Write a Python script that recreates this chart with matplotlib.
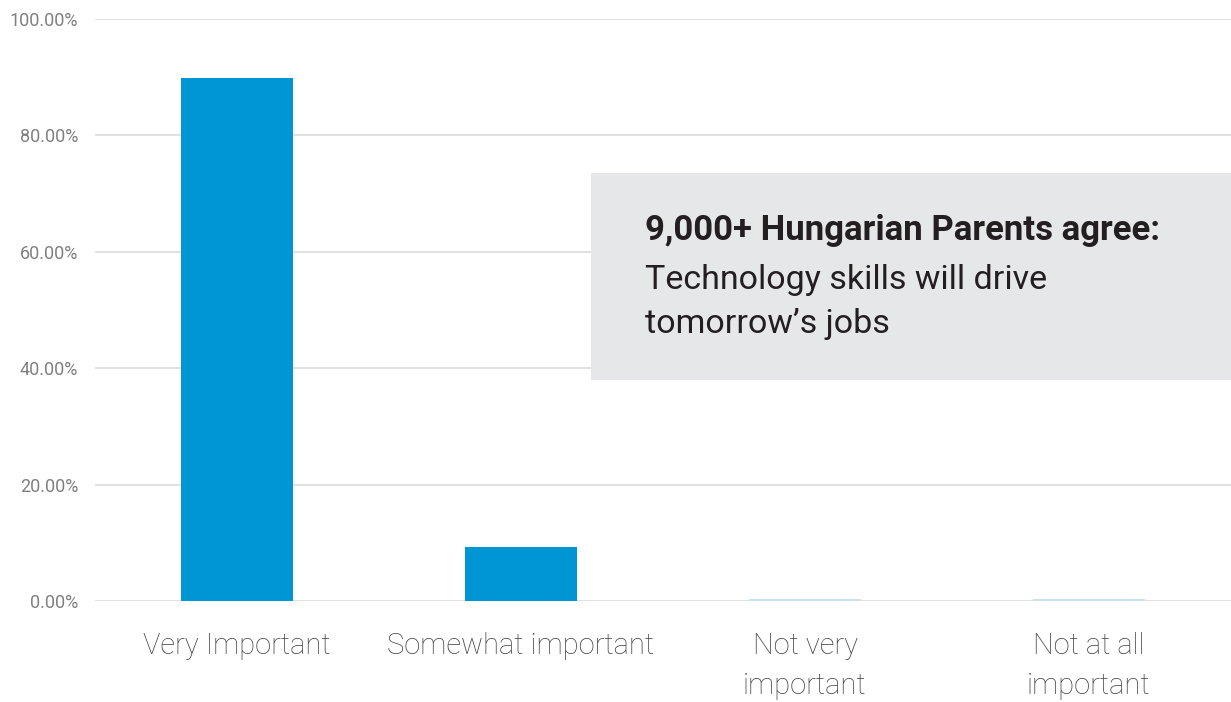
import numpy as np
import matplotlib.pyplot as plt
from matplotlib.ticker import FuncFormatter

categories = ["Very Important", "Somewhat important", "Not very\nimportant", "Not at all\nimportant"]
shares = [89.9, 9.3, 0.3, 0.3]
bar_colors = ["#0096d6", "#0096d6", "#c6e2ee", "#c6e2ee"]
y_ticks = [0, 20, 40, 60, 80, 100]

plt.rcParams['font.family'] = ['Roboto', 'DejaVu Sans']

fig = plt.figure(figsize=(12.31, 7.02), dpi=100)
ax = fig.add_axes([0.0772, 0.1439, 0.9228, 0.829])

x = np.arange(len(categories))
ax.bar(x, shares, width=0.395, color=bar_colors, zorder=2)

ax.set_xlim(-0.5, len(categories) - 0.5)
ax.set_ylim(0, 100)
ax.set_yticks(y_ticks)
ax.yaxis.set_major_formatter(FuncFormatter(lambda v, p: "%.2f%%" % v))
ax.grid(axis='y', color='#d9d9d9', linewidth=1.1, zorder=0)
ax.set_axisbelow(True)
for s in ax.spines.values():
    s.set_visible(False)

ax.tick_params(axis='y', length=0, pad=12, labelsize=13, labelcolor='#808080')
ax.tick_params(axis='x', length=0, pad=22, labelsize=21, labelcolor='#444444')
ax.set_xticks(x)
ax.set_xticklabels(categories, fontweight='light', linespacing=1.55)

# annotation box
box = plt.Rectangle((591 / 1231, 1 - 380 / 702), 640 / 1231, 207 / 702,
                    transform=fig.transFigure, facecolor='#e6e7e8', edgecolor='none', zorder=3)
fig.patches.append(box)
fig.text(645 / 1231, 1 - 231 / 702, "9,000+ Hungarian Parents agree:", fontsize=25,
         fontweight='bold', color='#231f20', va='center', ha='left')
fig.text(645 / 1231, 1 - 302 / 702, "Technology skills will drive\ntomorrow\u2019s jobs", fontsize=24.5,
         color='#231f20', va='center', ha='left', linespacing=1.45)

fig.savefig("out.png", dpi=100)
